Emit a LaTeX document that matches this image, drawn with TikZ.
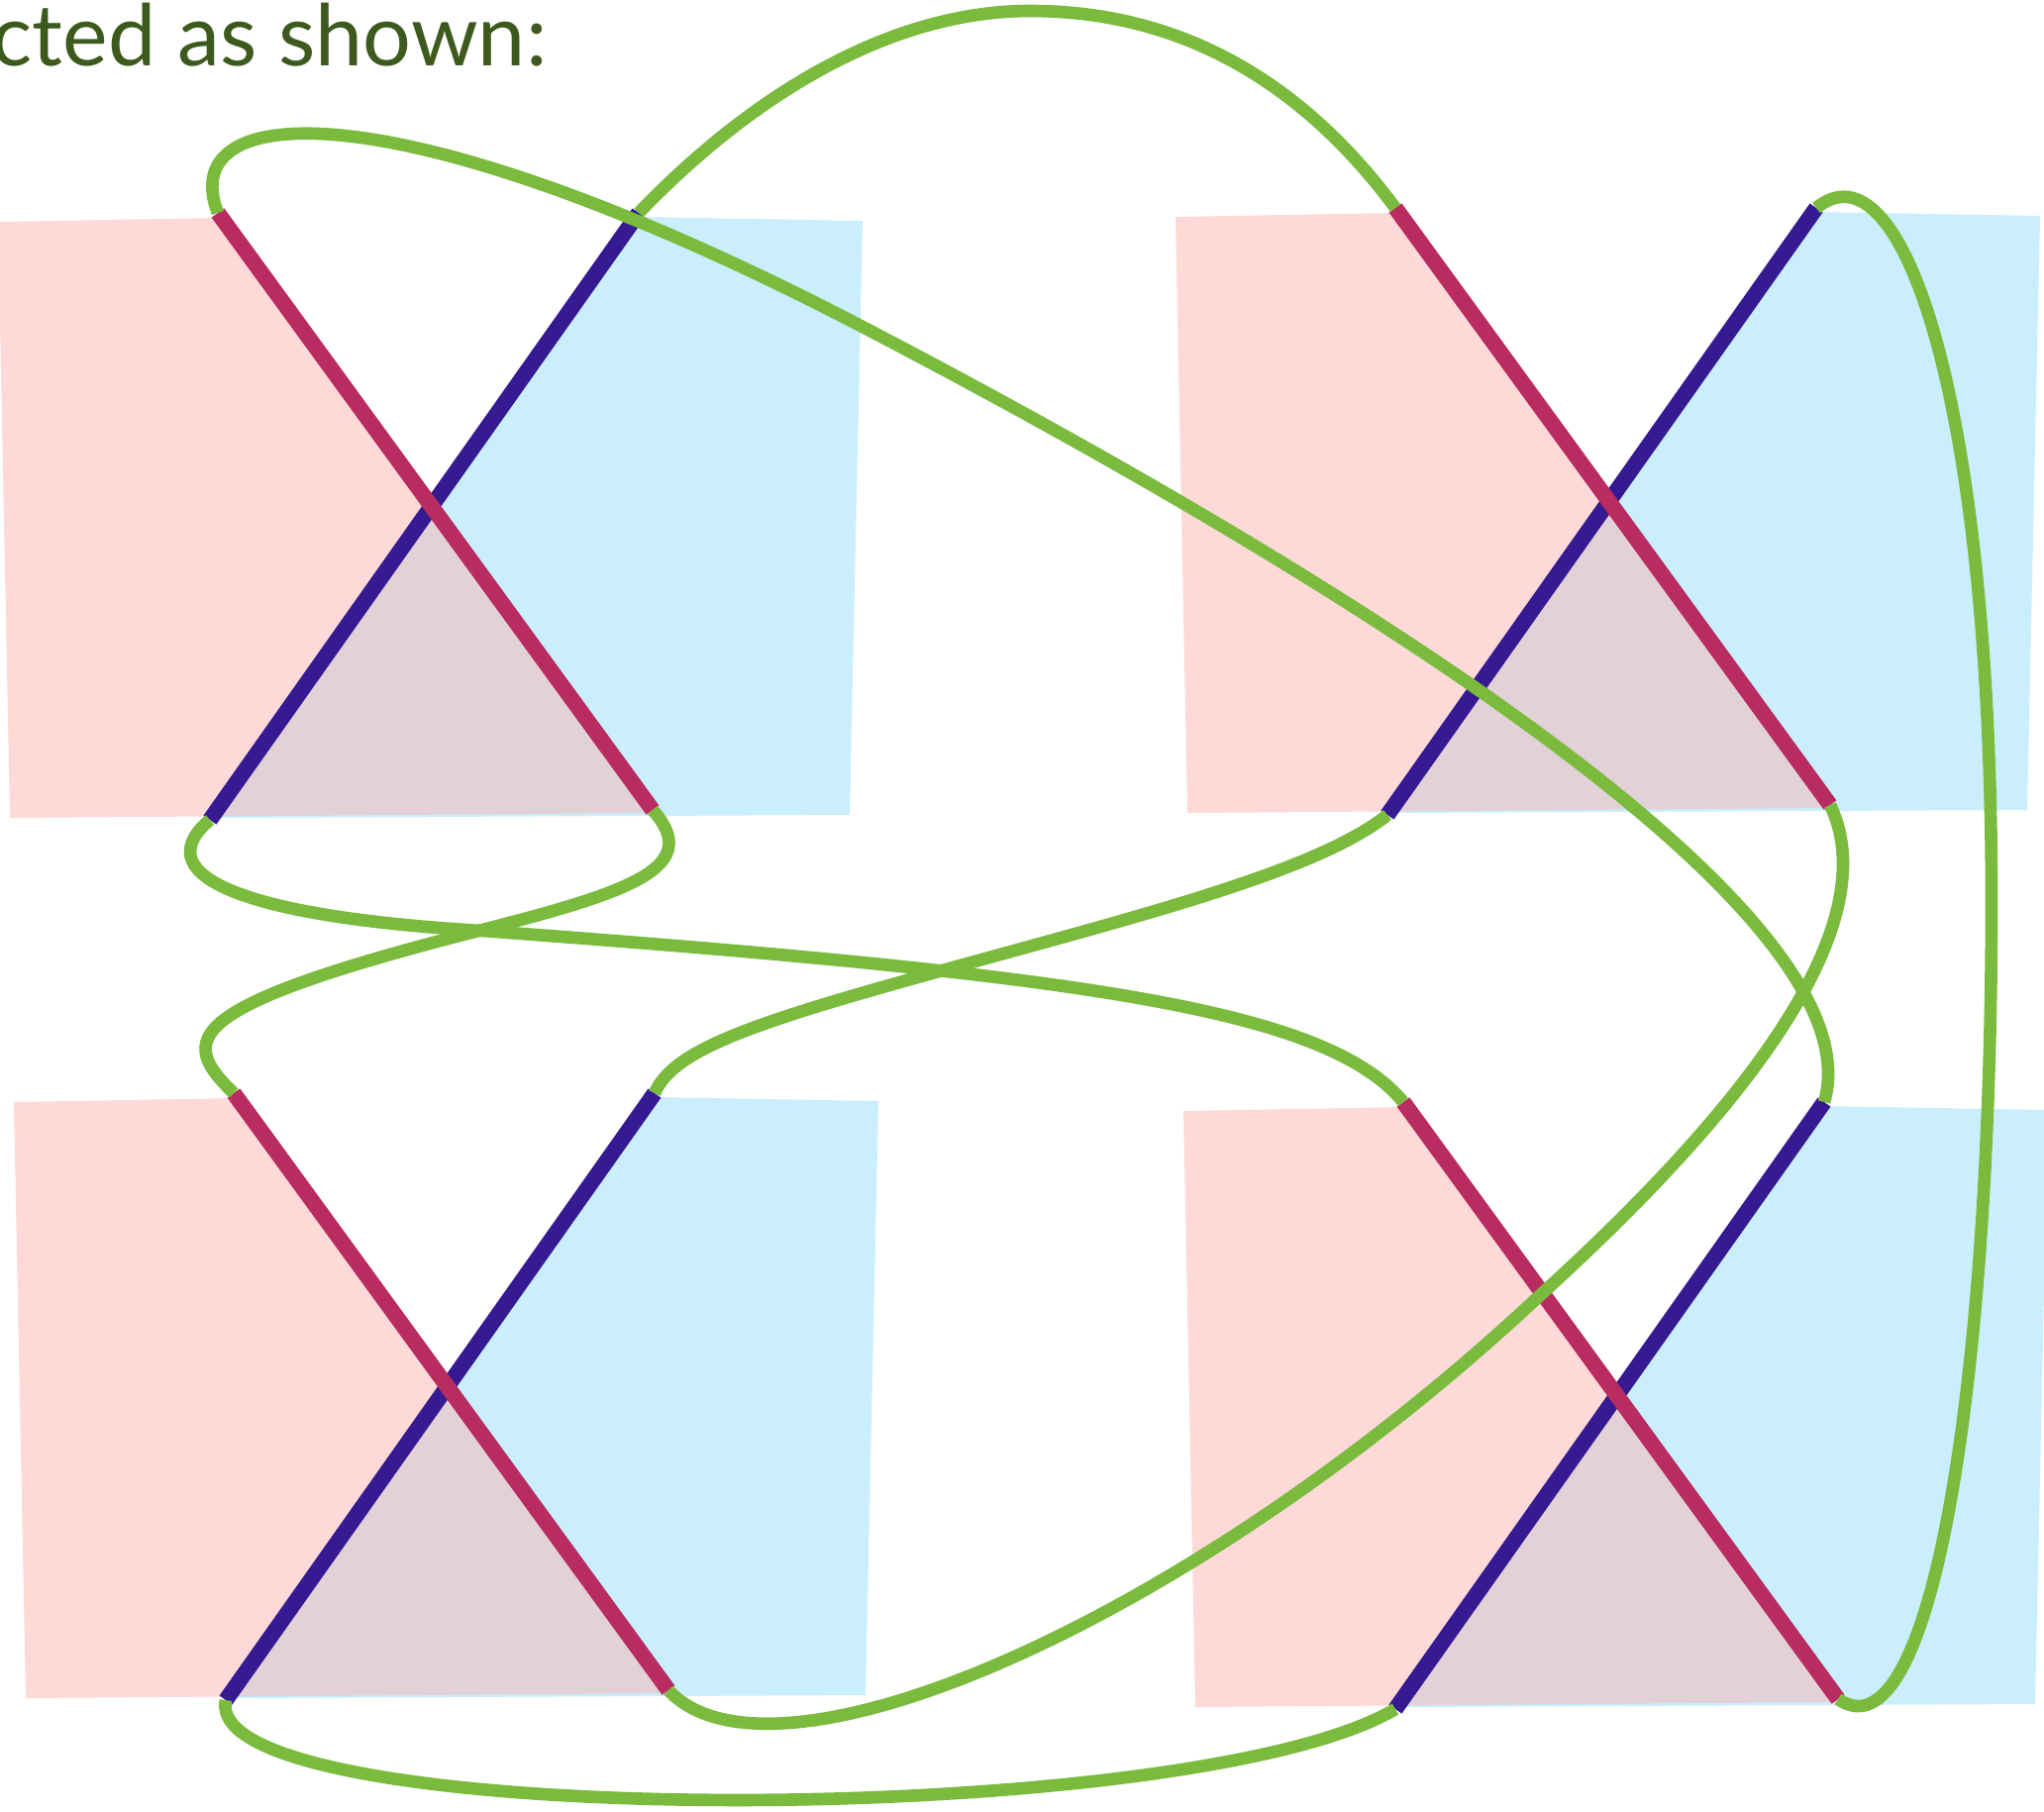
\documentclass[tikz,border=0pt]{standalone}
\usepackage{fontspec}
\setmainfont{Lato}
\usepackage{tikz}
\definecolor{knotgreen}{RGB}{122,187,62}
\definecolor{knotred}{RGB}{184,44,96}
\definecolor{knotblue}{RGB}{54,26,146}
\definecolor{paneblue}{RGB}{202,238,252}
\definecolor{panepink}{RGB}{251,181,177}
\definecolor{captiongreen}{RGB}{61,90,30}

\begin{document}
\begin{tikzpicture}[
  x=0.01cm,y=-0.01cm,
  strandR/.style={draw=knotred,line width=4.5pt},
  strandB/.style={draw=knotblue,line width=4.5pt},
  link/.style={draw=knotgreen,line width=3.6pt},
  paneP/.style={fill=panepink,fill opacity=0.5},
  paneB/.style={fill=paneblue}
]
  \useasboundingbox (0,0) rectangle (2064,1829);
  \node[anchor=base west,inner sep=0pt,text=captiongreen,font=\fontsize{24.5}{29}\selectfont] (caption) at (-9,66) {cted as shown:};

  \foreach \p/\dx/\dy in {tl/0/0,tr/1189/-5,bl/16/889,br/1197/898}{
    \begin{scope}[shift={(\dx,\dy)}]
      \fill[paneB] (644,219) -- (871,223) -- (858,823) -- (214,826) -- cycle;
      \fill[paneP] (-2,224) -- (220,220) -- (659,821) -- (10,826) -- cycle;
      \coordinate (\p-rt) at (220,215);
      \coordinate (\p-rb) at (659,818);
      \coordinate (\p-bt) at (645,215);
      \coordinate (\p-bb) at (212,828);
      \draw[strandB] (\p-bt) -- (\p-bb);
      \draw[strandR] (\p-rt) -- (\p-rb);
    \end{scope}
  }

  \draw[link] (tl-rt) .. controls (175,100) and (400,85) .. (869,329)
    .. controls (1320,564) and (1900,915) .. (br-bt);
  \draw[link] (tl-bt) .. controls (760,95) and (900,11) .. (1040,11)
    .. controls (1200,11) and (1320,90) .. (tr-rt);
  \draw[link] (tr-bt) .. controls (1920,140) and (2011,400) .. (2011,910)
    .. controls (2011,1400) and (1950,1780) .. (br-rb);
  \draw[link] (tr-rb) .. controls (1890,900) and (1840,1050) .. (1553,1310)
    .. controls (1200,1640) and (780,1820) .. (bl-rb);
  \draw[link] (tl-rb) .. controls (710,875) and (640,900) .. (487,939)
    .. controls (180,1017) and (180,1050) .. (bl-rt);
  \draw[link] (tl-bb) .. controls (150,880) and (230,925) .. (487,940)
    .. controls (1100,985) and (1340,1020) .. (br-rt);
  \draw[link] (tr-bb) .. controls (1330,880) and (1150,925) .. (948,981)
    .. controls (760,1033) and (680,1060) .. (bl-bt);
  \draw[link] (bl-bb) .. controls (200,1850) and (1200,1850) .. (br-bb);
\end{tikzpicture}
\end{document}
